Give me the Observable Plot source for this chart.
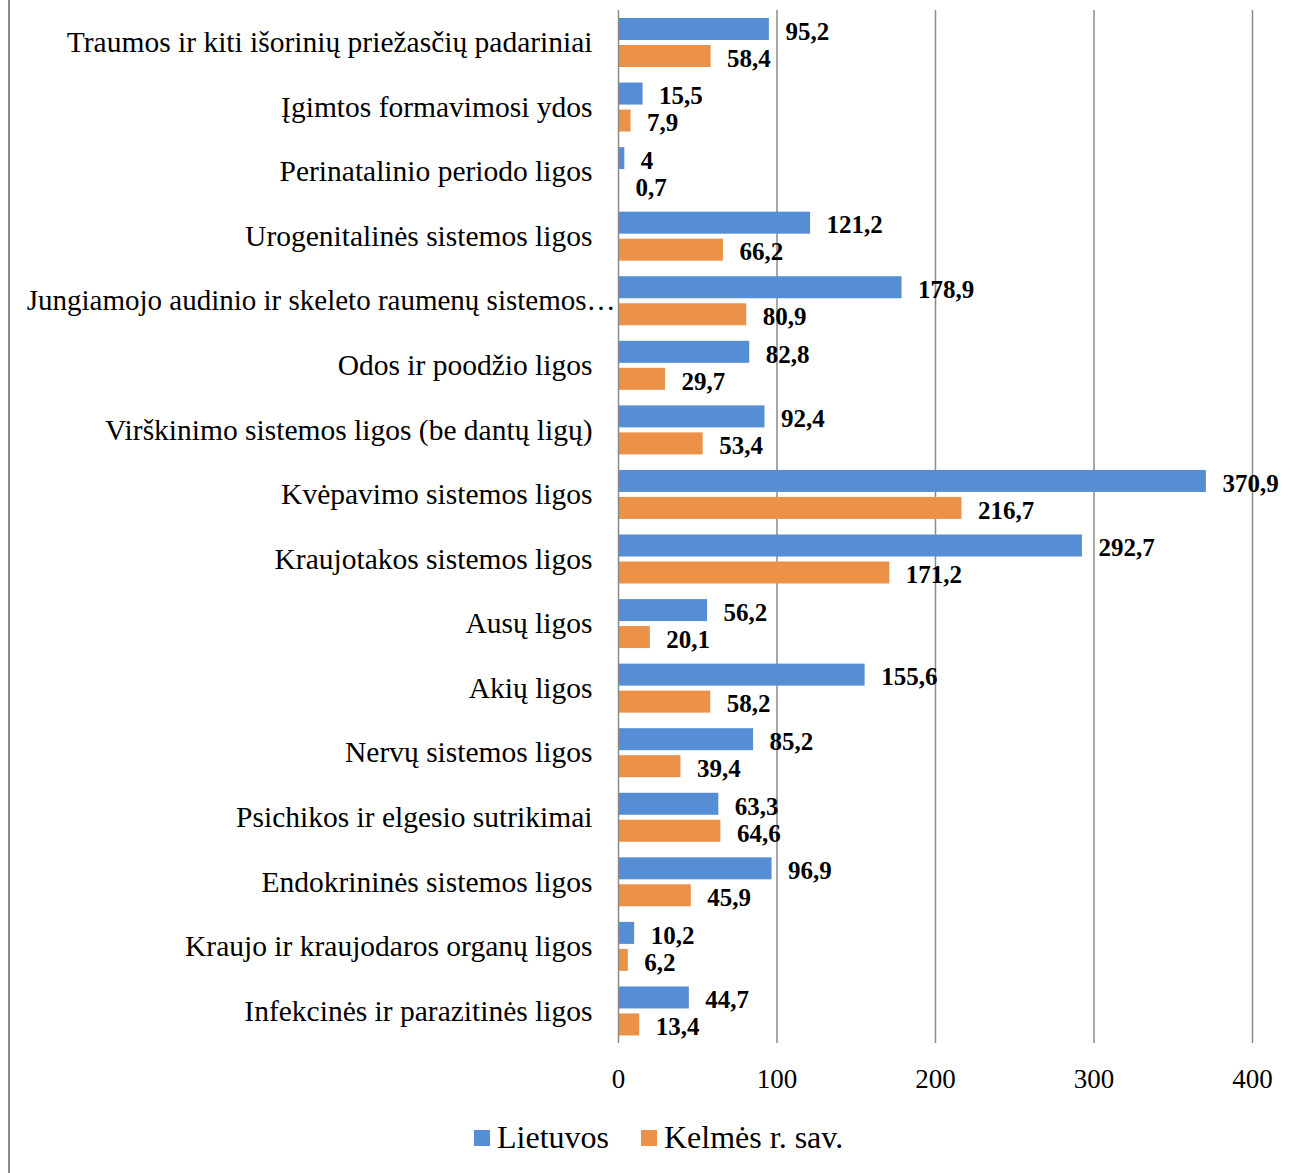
<!DOCTYPE html>
<html>
<head>
<meta charset="utf-8">
<script src="https://cdn.jsdelivr.net/npm/d3@7"></script>
<script src="https://cdn.jsdelivr.net/npm/@observablehq/plot@0.6"></script>
<style>
  html, body { margin: 0; padding: 0; background: #fff; }
  #wrap { position: relative; width: 1295px; height: 1173px; font-family: "Liberation Serif", "Times New Roman", serif; background: #fff; }
  #border { position: absolute; left: 8px; top: 0; width: 2px; height: 1173px; background: #8a8a8a; z-index: 5; }
  #chart { position: absolute; left: 0; top: 0; }
  #legend { position: absolute; left: 474px; top: 1119px; font-size: 32px; color: #000; display: flex; align-items: center; white-space: nowrap; z-index: 5; }
  .sw { display: inline-block; width: 16px; height: 16px; margin-right: 7px; }
  .item { display: flex; align-items: center; margin-right: 32px; }
</style>
</head>
<body>
<div id="wrap">
  <div id="chart"></div>
  <div id="border"></div>
  <div id="legend"></div>
</div>
<script>
const categories = [
  "Traumos ir kiti išorinių priežasčių padariniai",
  "Įgimtos formavimosi ydos",
  "Perinatalinio periodo ligos",
  "Urogenitalinės sistemos ligos",
  "Jungiamojo audinio ir skeleto raumenų sistemos…",
  "Odos ir poodžio ligos",
  "Virškinimo sistemos ligos (be dantų ligų)",
  "Kvėpavimo sistemos ligos",
  "Kraujotakos sistemos ligos",
  "Ausų ligos",
  "Akių ligos",
  "Nervų sistemos ligos",
  "Psichikos ir elgesio sutrikimai",
  "Endokrininės sistemos ligos",
  "Kraujo ir kraujodaros organų ligos",
  "Infekcinės ir parazitinės ligos"
];
const seriesNames = ["Lietuvos", "Kelmės r. sav."];
const lietuvos = [95.2, 15.5, 4, 121.2, 178.9, 82.8, 92.4, 370.9, 292.7, 56.2, 155.6, 85.2, 63.3, 96.9, 10.2, 44.7];
const kelme = [58.4, 7.9, 0.7, 66.2, 80.9, 29.7, 53.4, 216.7, 171.2, 20.1, 58.2, 39.4, 64.6, 45.9, 6.2, 13.4];
const xTicks = [0, 100, 200, 300, 400];
const colors = ["#558ED5", "#EC9148"];

const dataL = categories.map((c, i) => ({cat: c, v: lietuvos[i]}));
const dataK = categories.map((c, i) => ({cat: c, v: kelme[i]}));
const fmt = v => String(v).replace(".", ",");
const longLabel = categories[4];

const H = 1100, mTop = 10, mBottom = 57;
const step = (H - mTop - mBottom) / categories.length;

const plot = Plot.plot({
  width: 1295,
  height: H,
  marginLeft: 618,
  marginRight: 43,
  marginTop: mTop,
  marginBottom: mBottom,
  style: {fontFamily: "'Liberation Serif', 'Times New Roman', serif", fontSize: "29.5px", color: "#000", background: "transparent"},
  x: {domain: [0, 400], ticks: xTicks, label: null},
  y: {domain: categories, padding: 0, round: false, label: null},
  marks: [
    Plot.ruleX(xTicks.slice(1), {stroke: "#8a8a8a", strokeWidth: 1.5, strokeOpacity: 1}),
    Plot.barX(dataL, {x: "v", y: "cat", fill: colors[0], insetTop: 8, insetBottom: step - 30}),
    Plot.barX(dataK, {x: "v", y: "cat", fill: colors[1], insetTop: 35, insetBottom: step - 57}),
    Plot.ruleX([0], {stroke: "#8a8a8a", strokeWidth: 1.5}),
    Plot.axisX({ticks: xTicks, tickFormat: d => String(d), tickSize: 0, tickPadding: 25, fontSize: 27, label: null}),
    Plot.axisY({tickSize: 0, tickPadding: 26, label: null, tickFormat: d => d === longLabel ? "" : d}),
    Plot.text([longLabel], {x: () => 0, y: d => d, text: d => d, textAnchor: "end", dx: -3, fontSize: 29, fill: "#000"}),
    Plot.text(dataL, {x: "v", y: "cat", text: d => fmt(d.v), dx: 16, dy: -11, textAnchor: "start", fontWeight: "bold", fontSize: 25, fill: "#000"}),
    Plot.text(dataK, {x: "v", y: "cat", text: d => fmt(d.v), dx: 16, dy: 16, textAnchor: "start", fontWeight: "bold", fontSize: 25, fill: "#000"})
  ]
});
document.getElementById("chart").appendChild(plot);

const legend = document.getElementById("legend");
seriesNames.forEach((n, i) => {
  const it = document.createElement("div");
  it.className = "item";
  const sw = document.createElement("span");
  sw.className = "sw";
  sw.style.background = colors[i];
  const t = document.createElement("span");
  t.textContent = n;
  it.appendChild(sw);
  it.appendChild(t);
  legend.appendChild(it);
});
</script>
</body>
</html>
